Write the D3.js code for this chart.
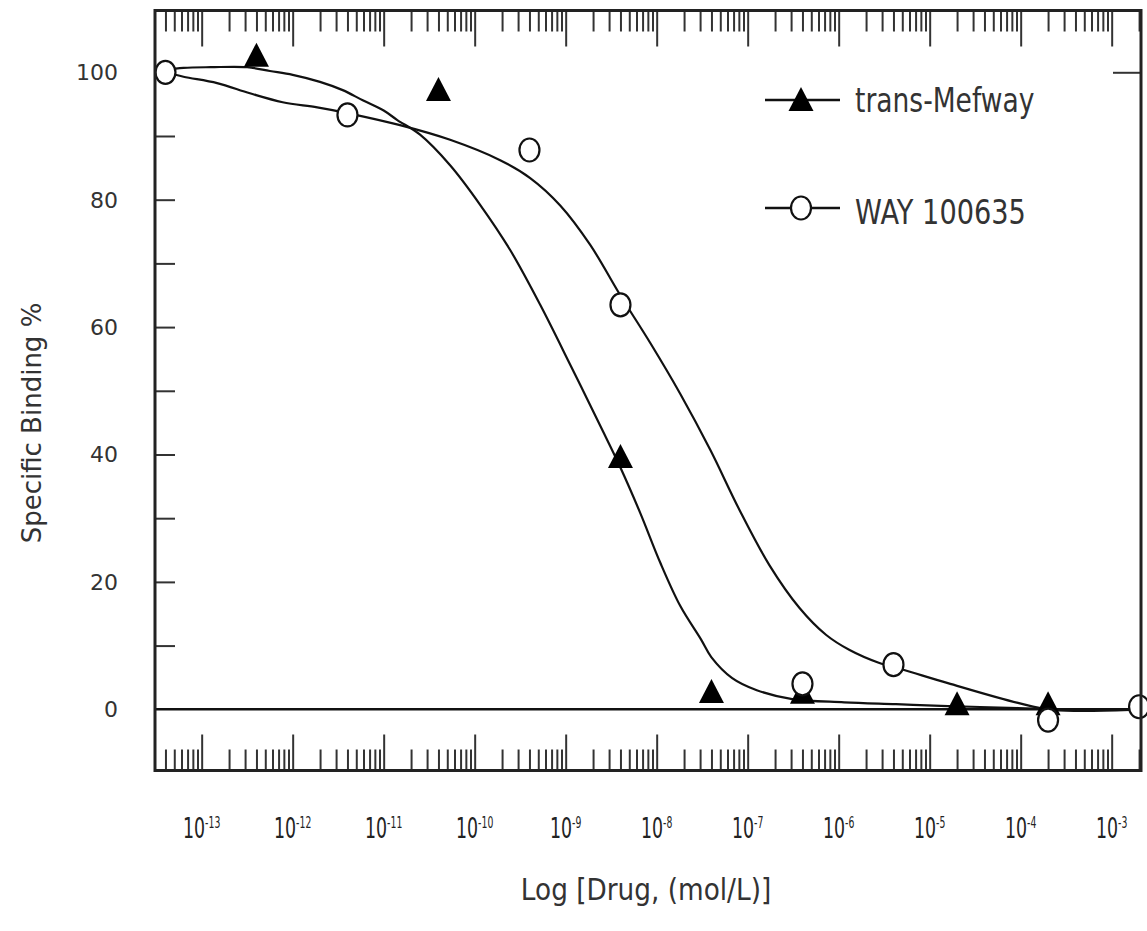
<!DOCTYPE html>
<meta charset="utf-8">
<script src="https://d3js.org/d3.v7.min.js"></script>
<style>
  body { margin: 0; background: #fff; }
  text { font-family: 'DejaVu Sans', sans-serif; fill: #333; }
</style>
<body>
<div id="my_dataviz"></div>
<script>

// measured points: concentration (mol/L) and specific binding %
var concTrans = [4e-13, 4e-11, 4e-9, 4e-8, 4e-7, 2e-5, 2e-4];
var bindTrans = [102.6, 97.2, 39.6, 2.7, 2.6, 0.8, 0.8];
var concWay = [4e-14, 4e-12, 4e-10, 4e-9, 4e-7, 4e-6, 2e-4, 2e-3];
var bindWay = [100.0, 93.3, 87.8, 63.5, 4.0, 7.0, -1.7, 0.4];

// fitted curves (log10 conc, %)
var fitTransLog = [-13.40, -13.2, -12.9, -12.5, -12.25, -12.0, -11.7, -11.45, -11.23, -11.0, -10.85, -10.6, -10.27, -9.94, -9.61, -9.28, -8.95, -8.62, -8.40, -8.18, -7.96, -7.74, -7.51, -7.40, -7.17, -6.90, -6.51, -5.94, -5.37, -4.80, -4.03, -3.57, -2.80];
var fitTransVal = [100.4, 100.7, 100.8, 100.8, 100.2, 99.6, 98.5, 97.2, 95.6, 94.0, 92.5, 90.2, 85.4, 79.2, 72.1, 63.5, 54.1, 44.5, 38.0, 30.8, 23.0, 16.2, 10.9, 8.2, 4.9, 3.0, 1.6, 1.1, 0.8, 0.5, 0.2, 0.0, 0.0];
var fitWayLog = [-13.40, -13.2, -12.83, -12.47, -12.11, -11.73, -11.40, -10.82, -10.27, -9.72, -9.39, -9.06, -8.73, -8.40, -8.07, -7.74, -7.41, -7.09, -6.76, -6.43, -6.14, -5.88, -5.56, -5.29, -4.80, -4.03, -3.64, -2.80];
var fitWayVal = [100.0, 99.3, 98.3, 96.7, 95.3, 94.5, 93.6, 91.7, 89.4, 86.2, 83.4, 79.1, 72.9, 65.0, 57.5, 49.5, 40.7, 31.3, 22.6, 15.9, 11.7, 9.3, 7.3, 6.2, 4.1, 1.0, -0.1, -0.1];

var yLabels = [0, 20, 40, 60, 80, 100];
var decadeExps = [-13, -12, -11, -10, -9, -8, -7, -6, -5, -4, -3];
var seriesNames = ["trans-Mefway", "WAY 100635"];

var plotLeft = 155, plotRight = 1141, plotTop = 10.5, plotBottom = 770.5;

var svg = d3.select("#my_dataviz")
  .append("svg")
    .attr("width", 1147)
    .attr("height", 931);

var x = d3.scaleLog()
  .domain([3.07e-14, 2.1e-3])
  .range([plotLeft, plotRight]);

var y = d3.scaleLinear()
  .domain([-9.61, 109.7])
  .range([plotBottom, plotTop]);

// tick values for the log axis
var majors = decadeExps.map(function(e) { return Math.pow(10, e); });
var minors = [];
for (var e = -14; e <= -3; e++) {
  for (var m = 2; m <= 9; m++) {
    var v = m * Math.pow(10, e);
    if (v >= x.domain()[0] && v <= x.domain()[1]) minors.push(v);
  }
}

function styleAxis(g) {
  g.select(".domain").remove();
  g.selectAll("line").attr("stroke", "#333").attr("stroke-width", 2);
  g.selectAll("text").remove();
}

svg.append("g").attr("transform", "translate(0," + plotTop + ")")
  .call(d3.axisTop(x).tickValues(minors).tickSize(-21)).call(styleAxis);
svg.append("g").attr("transform", "translate(0," + plotTop + ")")
  .call(d3.axisTop(x).tickValues(majors).tickSize(-36)).call(styleAxis);
svg.append("g").attr("transform", "translate(0," + plotBottom + ")")
  .call(d3.axisBottom(x).tickValues(minors).tickSize(-21)).call(styleAxis);
svg.append("g").attr("transform", "translate(0," + plotBottom + ")")
  .call(d3.axisBottom(x).tickValues(majors).tickSize(-36)).call(styleAxis);

// y ticks, inside on the left
svg.append("g").attr("transform", "translate(" + plotLeft + ",0)")
  .call(d3.axisLeft(y).tickValues(d3.range(10, 101, 10)).tickSize(-20)).call(styleAxis);
svg.append("g").attr("transform", "translate(" + plotRight + ",0)")
  .call(d3.axisRight(y).tickValues([100]).tickSize(-28)).call(styleAxis);

// y labels
svg.append("g").selectAll("text")
  .data(yLabels)
  .enter()
  .append("text")
    .attr("x", 118)
    .attr("y", function(d) { return y(d); })
    .attr("dy", "0.36em")
    .attr("text-anchor", "end")
    .style("font-size", "22px")
    .text(function(d) { return d; });

// x labels 10^n
var xl = svg.append("g").selectAll("g")
  .data(decadeExps)
  .enter()
  .append("g")
    .attr("transform", function(d) { return "translate(" + x(Math.pow(10, d)) + ",838) scale(0.62,1)"; });
var xt = xl.append("text")
    .attr("text-anchor", "middle")
    .style("font-size", "28px")
    .style("fill", "#222");
xt.append("tspan").text("10");
xt.append("tspan")
    .attr("dy", "-0.7em")
    .style("font-size", "15px")
    .text(function(d) { return "-" + (-d); });

// zero line
svg.append("line")
  .attr("x1", plotLeft).attr("x2", plotRight)
  .attr("y1", y(0)).attr("y2", y(0))
  .attr("stroke", "#111").attr("stroke-width", 2.5);

// fitted curves
var line = d3.line()
  .x(function(d) { return x(Math.pow(10, d[0])); })
  .y(function(d) { return y(d[1]); })
  .curve(d3.curveCatmullRom.alpha(0.5));

svg.append("path")
  .datum(fitTransLog.map(function(d, i) { return [d, fitTransVal[i]]; }))
  .attr("d", line)
  .attr("fill", "none").attr("stroke", "#111").attr("stroke-width", 2.2);
svg.append("path")
  .datum(fitWayLog.map(function(d, i) { return [d, fitWayVal[i]]; }))
  .attr("d", line)
  .attr("fill", "none").attr("stroke", "#111").attr("stroke-width", 2.2);

var tri = "M0,-13L12.5,11L-12.5,11Z";

// triangles
svg.append("g").selectAll("path")
  .data(concTrans)
  .enter()
  .append("path")
    .attr("d", tri)
    .attr("transform", function(d, i) { return "translate(" + x(d) + "," + y(bindTrans[i]) + ")"; })
    .attr("fill", "#000");

// open circles
svg.append("g").selectAll("ellipse")
  .data(concWay)
  .enter()
  .append("ellipse")
    .attr("cx", function(d) { return x(d); })
    .attr("cy", function(d, i) { return y(bindWay[i]); })
    .attr("rx", 10).attr("ry", 11.5)
    .attr("fill", "#fff").attr("stroke", "#111").attr("stroke-width", 2.2);

// frame
svg.append("rect")
  .attr("x", plotLeft).attr("y", plotTop)
  .attr("width", plotRight - plotLeft).attr("height", plotBottom - plotTop)
  .attr("fill", "none").attr("stroke", "#222").attr("stroke-width", 3);

// axis titles
svg.append("text")
  .attr("transform", "translate(41,423) rotate(-90)")
  .attr("text-anchor", "middle")
  .style("font-size", "26px")
  .text("Specific Binding %");

svg.append("text")
  .attr("transform", "translate(646,900) scale(0.85,1)")
  .attr("text-anchor", "middle")
  .style("font-size", "31px")
  .text("Log [Drug, (mol/L)]");

// handmade legend
var legY = [100, 208];
svg.append("line").attr("x1", 765).attr("x2", 840).attr("y1", legY[0]).attr("y2", legY[0]).attr("stroke", "#111").attr("stroke-width", 2.4);
svg.append("path").attr("d", tri).attr("transform", "translate(801," + legY[0] + ")").attr("fill", "#000");
svg.append("line").attr("x1", 765).attr("x2", 840).attr("y1", legY[1]).attr("y2", legY[1]).attr("stroke", "#111").attr("stroke-width", 2.4);
svg.append("ellipse").attr("cx", 801).attr("cy", legY[1]).attr("rx", 10).attr("ry", 11.5).attr("fill", "#fff").attr("stroke", "#111").attr("stroke-width", 2.2);
svg.append("text").attr("transform", "translate(855," + (legY[0] + 12) + ") scale(0.78,1)").style("font-size", "34px").text(seriesNames[0]);
svg.append("text").attr("transform", "translate(855," + (legY[1] + 16) + ") scale(0.8,1)").style("font-size", "34px").text(seriesNames[1]);

</script>
</body>
